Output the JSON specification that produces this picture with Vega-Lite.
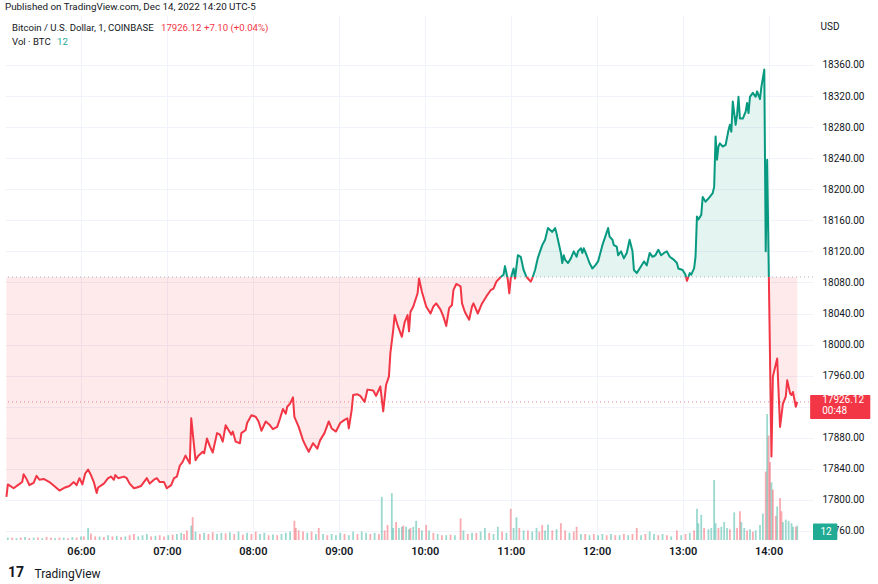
{
  "$schema": "https://vega.github.io/schema/vega-lite/v6.json",
  "width": 808,
  "height": 525,
  "autosize": {"type": "none"},
  "padding": {"left": 5, "top": 15, "right": 65, "bottom": 44},
  "background": "white",
  "title": {"text": "Published on TradingView.com, Dec 14, 2022 14:20 UTC-5", "anchor": "start", "frame": "group", "offset": 3, "fontSize": 9.8, "fontWeight": "normal", "color": "#131722"},
  "config": {"view": {"stroke": null}, "font": "Roboto"},
  "layer": [
    {
      "data": {"values": [
      {"t":"05:09","v":2,"d":"u"},{"t":"05:12","v":2,"d":"d"},{"t":"05:15","v":1.5,"d":"u"},{"t":"05:18","v":2,"d":"d"},{"t":"05:21","v":2.5,"d":"u"},{"t":"05:24","v":1.5,"d":"d"},{"t":"05:27","v":2,"d":"u"},{"t":"05:30","v":2,"d":"d"},{"t":"05:33","v":1.5,"d":"u"},{"t":"05:36","v":2.5,"d":"d"},{"t":"05:39","v":2,"d":"d"},{"t":"05:42","v":1.5,"d":"u"},{"t":"05:45","v":2,"d":"d"},{"t":"05:48","v":2,"d":"u"},{"t":"05:51","v":1.5,"d":"d"},{"t":"05:54","v":2.5,"d":"u"},{"t":"05:57","v":2,"d":"d"},
      {"t":"06:00","v":3,"d":"u"},{"t":"06:02","v":3,"d":"d"},{"t":"06:05","v":10,"d":"u"},{"t":"06:07","v":5.5,"d":"d"},{"t":"06:10","v":3,"d":"d"},{"t":"06:13","v":3,"d":"u"},{"t":"06:16","v":2.5,"d":"d"},{"t":"06:19","v":4,"d":"u"},{"t":"06:22","v":3,"d":"d"},{"t":"06:25","v":3.5,"d":"u"},{"t":"06:28","v":2.5,"d":"d"},{"t":"06:31","v":3,"d":"u"},{"t":"06:34","v":4,"d":"d"},{"t":"06:37","v":5,"d":"d"},{"t":"06:40","v":3,"d":"u"},{"t":"06:43","v":4,"d":"u"},{"t":"06:46","v":5,"d":"u"},{"t":"06:49","v":3,"d":"d"},{"t":"06:52","v":3.5,"d":"u"},{"t":"06:55","v":4,"d":"d"},{"t":"06:58","v":3,"d":"d"},
      {"t":"07:01","v":4,"d":"u"},{"t":"07:04","v":4.5,"d":"d"},{"t":"07:07","v":5,"d":"u"},{"t":"07:10","v":6,"d":"u"},{"t":"07:12","v":5,"d":"d"},{"t":"07:14","v":8,"d":"d"},{"t":"07:17","v":12,"d":"u"},{"t":"07:18","v":19,"d":"d"},{"t":"07:20","v":7,"d":"u"},{"t":"07:23","v":5,"d":"d"},{"t":"07:26","v":6,"d":"u"},{"t":"07:29","v":5,"d":"d"},{"t":"07:32","v":6.5,"d":"d"},{"t":"07:35","v":5,"d":"u"},{"t":"07:38","v":6,"d":"u"},{"t":"07:41","v":5.5,"d":"d"},{"t":"07:44","v":6.5,"d":"u"},{"t":"07:47","v":5,"d":"d"},{"t":"07:50","v":7,"d":"u"},{"t":"07:53","v":4.5,"d":"d"},{"t":"07:56","v":6,"d":"u"},{"t":"07:59","v":5,"d":"d"},
      {"t":"08:02","v":7,"d":"d"},{"t":"08:05","v":5,"d":"u"},{"t":"08:08","v":6,"d":"u"},{"t":"08:11","v":4,"d":"d"},{"t":"08:14","v":4.5,"d":"u"},{"t":"08:17","v":4,"d":"d"},{"t":"08:20","v":5,"d":"u"},{"t":"08:23","v":6,"d":"u"},{"t":"08:26","v":7,"d":"u"},{"t":"08:29","v":16,"d":"d"},{"t":"08:30","v":10,"d":"d"},{"t":"08:32","v":8,"d":"d"},{"t":"08:35","v":7,"d":"d"},{"t":"08:38","v":6,"d":"u"},{"t":"08:41","v":7,"d":"d"},{"t":"08:44","v":5,"d":"u"},{"t":"08:46","v":10,"d":"d"},{"t":"08:49","v":5,"d":"u"},{"t":"08:52","v":4,"d":"d"},{"t":"08:55","v":5,"d":"u"},{"t":"08:58","v":4,"d":"u"},
      {"t":"09:01","v":6,"d":"u"},{"t":"09:04","v":5,"d":"d"},{"t":"09:07","v":4,"d":"u"},{"t":"09:10","v":7,"d":"u"},{"t":"09:13","v":5,"d":"d"},{"t":"09:16","v":7,"d":"u"},{"t":"09:19","v":6,"d":"u"},{"t":"09:22","v":5,"d":"d"},{"t":"09:25","v":6,"d":"u"},{"t":"09:28","v":5,"d":"d"},{"t":"09:30","v":36,"d":"u"},{"t":"09:32","v":8,"d":"d"},{"t":"09:34","v":12.5,"d":"d"},{"t":"09:37","v":39,"d":"u"},{"t":"09:38","v":10,"d":"u"},{"t":"09:40","v":15,"d":"d"},{"t":"09:42","v":10,"d":"u"},{"t":"09:44","v":11,"d":"u"},{"t":"09:45","v":12,"d":"d"},{"t":"09:47","v":11,"d":"u"},{"t":"09:49","v":9,"d":"u"},{"t":"09:50","v":10,"d":"d"},{"t":"09:52","v":11,"d":"u"},{"t":"09:54","v":16,"d":"u"},{"t":"09:56","v":10,"d":"d"},{"t":"09:58","v":8,"d":"u"},
      {"t":"10:01","v":12.5,"d":"d"},{"t":"10:03","v":8,"d":"u"},{"t":"10:06","v":6,"d":"d"},{"t":"10:09","v":5,"d":"u"},{"t":"10:12","v":4,"d":"d"},{"t":"10:15","v":4,"d":"u"},{"t":"10:18","v":4.5,"d":"d"},{"t":"10:21","v":4,"d":"u"},{"t":"10:25","v":18,"d":"d"},{"t":"10:27","v":8,"d":"u"},{"t":"10:30","v":5,"d":"d"},{"t":"10:33","v":6,"d":"u"},{"t":"10:36","v":6,"d":"d"},{"t":"10:39","v":7,"d":"u"},{"t":"10:42","v":10,"d":"u"},{"t":"10:45","v":6,"d":"d"},{"t":"10:48","v":5,"d":"u"},{"t":"10:51","v":11,"d":"u"},{"t":"10:54","v":7,"d":"d"},{"t":"10:57","v":6,"d":"u"},
      {"t":"11:00","v":26,"d":"d"},{"t":"11:02","v":10,"d":"u"},{"t":"11:04","v":19,"d":"u"},{"t":"11:06","v":10,"d":"d"},{"t":"11:09","v":8,"d":"u"},{"t":"11:12","v":8,"d":"d"},{"t":"11:15","v":7,"d":"u"},{"t":"11:18","v":10,"d":"u"},{"t":"11:20","v":7,"d":"d"},{"t":"11:22","v":12.5,"d":"d"},{"t":"11:24","v":8,"d":"u"},{"t":"11:26","v":13,"d":"u"},{"t":"11:29","v":8,"d":"d"},{"t":"11:32","v":9,"d":"u"},{"t":"11:35","v":14,"d":"d"},{"t":"11:38","v":8,"d":"d"},{"t":"11:41","v":6,"d":"u"},{"t":"11:44","v":7,"d":"d"},{"t":"11:46","v":11,"d":"d"},{"t":"11:49","v":5,"d":"u"},{"t":"11:52","v":5,"d":"d"},{"t":"11:55","v":4,"d":"u"},{"t":"11:58","v":5,"d":"d"},
      {"t":"12:01","v":4,"d":"u"},{"t":"12:04","v":5,"d":"u"},{"t":"12:07","v":4,"d":"d"},{"t":"12:10","v":5,"d":"u"},{"t":"12:13","v":4,"d":"d"},{"t":"12:16","v":4,"d":"u"},{"t":"12:19","v":5,"d":"d"},{"t":"12:22","v":4,"d":"u"},{"t":"12:25","v":5,"d":"d"},{"t":"12:28","v":10,"d":"d"},{"t":"12:31","v":4,"d":"u"},{"t":"12:34","v":5,"d":"d"},{"t":"12:37","v":7,"d":"u"},{"t":"12:40","v":5,"d":"u"},{"t":"12:43","v":4,"d":"d"},{"t":"12:46","v":5,"d":"u"},{"t":"12:49","v":4,"d":"d"},{"t":"12:52","v":3,"d":"u"},{"t":"12:56","v":8,"d":"d"},{"t":"12:59","v":4,"d":"u"},
      {"t":"13:02","v":5,"d":"d"},{"t":"13:05","v":6,"d":"u"},{"t":"13:08","v":8,"d":"d"},{"t":"13:10","v":26,"d":"u"},{"t":"13:11","v":14,"d":"u"},{"t":"13:13","v":21,"d":"u"},{"t":"13:15","v":10,"d":"d"},{"t":"13:18","v":9,"d":"u"},{"t":"13:20","v":10,"d":"u"},{"t":"13:22","v":50,"d":"u"},{"t":"13:23","v":14,"d":"u"},{"t":"13:25","v":10,"d":"d"},{"t":"13:27","v":11,"d":"u"},{"t":"13:29","v":15,"d":"u"},{"t":"13:31","v":10,"d":"u"},{"t":"13:33","v":9,"d":"d"},{"t":"13:36","v":23,"d":"u"},{"t":"13:38","v":10,"d":"d"},{"t":"13:40","v":24,"d":"d"},{"t":"13:41","v":15,"d":"u"},{"t":"13:43","v":10,"d":"u"},{"t":"13:45","v":8,"d":"d"},{"t":"13:47","v":9,"d":"u"},{"t":"13:49","v":7,"d":"d"},{"t":"13:51","v":8,"d":"u"},{"t":"13:54","v":12.5,"d":"u"},{"t":"13:56","v":22,"d":"u"},{"t":"13:58","v":57,"d":"d"},{"t":"13:59","v":105,"d":"u"},
      {"t":"14:00","v":87,"d":"d"},{"t":"14:01","v":65,"d":"d"},{"t":"14:02","v":48,"d":"u"},{"t":"14:03","v":42,"d":"d"},{"t":"14:05","v":20,"d":"d"},{"t":"14:06","v":28,"d":"u"},{"t":"14:08","v":35,"d":"d"},{"t":"14:09","v":24,"d":"d"},{"t":"14:10","v":15,"d":"u"},{"t":"14:12","v":17,"d":"u"},{"t":"14:14","v":16,"d":"u"},{"t":"14:16","v":14,"d":"u"},{"t":"14:17","v":11,"d":"u"},{"t":"14:19","v":11,"d":"d"},{"t":"14:20","v":12,"d":"u"}
      ], "format": {"parse": {"t": "utc:'%H:%M'"}}},
      "mark": {"type": "bar", "size": 1.8},
      "encoding": {
        "x": {"field": "t", "type": "temporal"},
        "y": {"field": "v", "type": "quantitative", "scale": {"domain": [0, 437.5], "nice": false, "zero": true}, "axis": null},
        "color": {"field": "d", "type": "nominal", "scale": {"domain": ["u", "d"], "range": ["rgba(34,171,148,0.45)", "rgba(242,54,69,0.42)"]}, "legend": null}
      }
    },
    {
      "data": {"values": [
      {"t":"05:08:00","p":17804,"g":"d1","s":"d"},{"t":"05:09:00","p":17820,"g":"d1","s":"d"},{"t":"05:13:00","p":17815,"g":"d1","s":"d"},{"t":"05:16:00","p":17819,"g":"d1","s":"d"},{"t":"05:19:00","p":17823,"g":"d1","s":"d"},{"t":"05:20:00","p":17833,"g":"d1","s":"d"},{"t":"05:22:00","p":17827,"g":"d1","s":"d"},{"t":"05:24:00","p":17819,"g":"d1","s":"d"},{"t":"05:27:00","p":17822,"g":"d1","s":"d"},{"t":"05:29:00","p":17831,"g":"d1","s":"d"},{"t":"05:31:00","p":17826,"g":"d1","s":"d"},{"t":"05:34:00","p":17827,"g":"d1","s":"d"},{"t":"05:38:00","p":17823,"g":"d1","s":"d"},{"t":"05:42:00","p":17817,"g":"d1","s":"d"},{"t":"05:45:00","p":17812,"g":"d1","s":"d"},{"t":"05:49:00","p":17816,"g":"d1","s":"d"},{"t":"05:52:00","p":17818,"g":"d1","s":"d"},{"t":"05:55:00","p":17823,"g":"d1","s":"d"},{"t":"05:57:00","p":17819,"g":"d1","s":"d"},{"t":"05:59:00","p":17828,"g":"d1","s":"d"},
      {"t":"06:01:00","p":17820,"g":"d1","s":"d"},{"t":"06:03:00","p":17834,"g":"d1","s":"d"},{"t":"06:05:00","p":17839,"g":"d1","s":"d"},{"t":"06:07:00","p":17832,"g":"d1","s":"d"},{"t":"06:09:00","p":17823,"g":"d1","s":"d"},{"t":"06:11:00","p":17809,"g":"d1","s":"d"},{"t":"06:12:00","p":17816,"g":"d1","s":"d"},{"t":"06:16:00","p":17821,"g":"d1","s":"d"},{"t":"06:19:00","p":17828,"g":"d1","s":"d"},{"t":"06:21:00","p":17830,"g":"d1","s":"d"},{"t":"06:23:00","p":17826,"g":"d1","s":"d"},{"t":"06:24:00","p":17832,"g":"d1","s":"d"},{"t":"06:26:00","p":17828,"g":"d1","s":"d"},{"t":"06:30:00","p":17830,"g":"d1","s":"d"},{"t":"06:32:00","p":17828,"g":"d1","s":"d"},{"t":"06:34:00","p":17821,"g":"d1","s":"d"},{"t":"06:37:00","p":17815,"g":"d1","s":"d"},{"t":"06:39:00","p":17816,"g":"d1","s":"d"},{"t":"06:42:00","p":17818,"g":"d1","s":"d"},{"t":"06:46:00","p":17828,"g":"d1","s":"d"},{"t":"06:48:00","p":17821,"g":"d1","s":"d"},{"t":"06:51:00","p":17826,"g":"d1","s":"d"},{"t":"06:53:00","p":17828,"g":"d1","s":"d"},{"t":"06:55:00","p":17823,"g":"d1","s":"d"},{"t":"06:58:00","p":17823,"g":"d1","s":"d"},
      {"t":"07:00:00","p":17815,"g":"d1","s":"d"},{"t":"07:03:00","p":17819,"g":"d1","s":"d"},{"t":"07:05:00","p":17828,"g":"d1","s":"d"},{"t":"07:07:00","p":17830,"g":"d1","s":"d"},{"t":"07:09:00","p":17844,"g":"d1","s":"d"},{"t":"07:11:00","p":17849,"g":"d1","s":"d"},{"t":"07:13:00","p":17857,"g":"d1","s":"d"},{"t":"07:16:00","p":17847,"g":"d1","s":"d"},{"t":"07:17:00","p":17905,"g":"d1","s":"d"},{"t":"07:19:00","p":17869,"g":"d1","s":"d"},{"t":"07:20:00","p":17851,"g":"d1","s":"d"},{"t":"07:22:00","p":17857,"g":"d1","s":"d"},{"t":"07:25:00","p":17862,"g":"d1","s":"d"},{"t":"07:26:00","p":17860,"g":"d1","s":"d"},{"t":"07:28:00","p":17879,"g":"d1","s":"d"},{"t":"07:30:00","p":17869,"g":"d1","s":"d"},{"t":"07:32:00","p":17861,"g":"d1","s":"d"},{"t":"07:35:00","p":17886,"g":"d1","s":"d"},{"t":"07:37:00","p":17884,"g":"d1","s":"d"},{"t":"07:39:00","p":17875,"g":"d1","s":"d"},{"t":"07:41:00","p":17896,"g":"d1","s":"d"},{"t":"07:43:00","p":17890,"g":"d1","s":"d"},{"t":"07:45:00","p":17884,"g":"d1","s":"d"},{"t":"07:46:00","p":17888,"g":"d1","s":"d"},{"t":"07:48:00","p":17875,"g":"d1","s":"d"},{"t":"07:51:00","p":17873,"g":"d1","s":"d"},{"t":"07:52:00","p":17886,"g":"d1","s":"d"},{"t":"07:55:00","p":17890,"g":"d1","s":"d"},{"t":"07:56:00","p":17899,"g":"d1","s":"d"},{"t":"07:59:00","p":17909,"g":"d1","s":"d"},
      {"t":"08:02:00","p":17907,"g":"d1","s":"d"},{"t":"08:04:00","p":17901,"g":"d1","s":"d"},{"t":"08:06:00","p":17889,"g":"d1","s":"d"},{"t":"08:09:00","p":17901,"g":"d1","s":"d"},{"t":"08:12:00","p":17896,"g":"d1","s":"d"},{"t":"08:14:00","p":17891,"g":"d1","s":"d"},{"t":"08:17:00","p":17894,"g":"d1","s":"d"},{"t":"08:19:00","p":17905,"g":"d1","s":"d"},{"t":"08:21:00","p":17917,"g":"d1","s":"d"},{"t":"08:23:00","p":17911,"g":"d1","s":"d"},{"t":"08:24:00","p":17920,"g":"d1","s":"d"},{"t":"08:26:00","p":17924,"g":"d1","s":"d"},{"t":"08:28:00","p":17932,"g":"d1","s":"d"},{"t":"08:29:00","p":17907,"g":"d1","s":"d"},{"t":"08:32:00","p":17894,"g":"d1","s":"d"},{"t":"08:35:00","p":17877,"g":"d1","s":"d"},{"t":"08:37:00","p":17869,"g":"d1","s":"d"},{"t":"08:39:00","p":17862,"g":"d1","s":"d"},{"t":"08:42:00","p":17873,"g":"d1","s":"d"},{"t":"08:45:00","p":17866,"g":"d1","s":"d"},{"t":"08:47:00","p":17877,"g":"d1","s":"d"},{"t":"08:50:00","p":17886,"g":"d1","s":"d"},{"t":"08:53:00","p":17901,"g":"d1","s":"d"},{"t":"08:55:00","p":17892,"g":"d1","s":"d"},{"t":"08:58:00","p":17888,"g":"d1","s":"d"},
      {"t":"09:01:00","p":17899,"g":"d1","s":"d"},{"t":"09:04:00","p":17903,"g":"d1","s":"d"},{"t":"09:06:00","p":17905,"g":"d1","s":"d"},{"t":"09:07:00","p":17892,"g":"d1","s":"d"},{"t":"09:09:00","p":17916,"g":"d1","s":"d"},{"t":"09:10:00","p":17935,"g":"d1","s":"d"},{"t":"09:13:00","p":17936,"g":"d1","s":"d"},{"t":"09:15:00","p":17934,"g":"d1","s":"d"},{"t":"09:18:00","p":17926,"g":"d1","s":"d"},{"t":"09:20:00","p":17942,"g":"d1","s":"d"},{"t":"09:24:00","p":17941,"g":"d1","s":"d"},{"t":"09:26:00","p":17934,"g":"d1","s":"d"},{"t":"09:29:00","p":17946,"g":"d1","s":"d"},{"t":"09:31:00","p":17914,"g":"d1","s":"d"},{"t":"09:33:00","p":17948,"g":"d1","s":"d"},{"t":"09:35:00","p":17959,"g":"d1","s":"d"},{"t":"09:36:00","p":17989,"g":"d1","s":"d"},{"t":"09:38:00","p":18019,"g":"d1","s":"d"},{"t":"09:39:00","p":18038,"g":"d1","s":"d"},{"t":"09:41:00","p":18025,"g":"d1","s":"d"},{"t":"09:44:00","p":18010,"g":"d1","s":"d"},{"t":"09:46:00","p":18029,"g":"d1","s":"d"},{"t":"09:48:00","p":18038,"g":"d1","s":"d"},{"t":"09:49:00","p":18017,"g":"d1","s":"d"},{"t":"09:50:00","p":18042,"g":"d1","s":"d"},{"t":"09:52:00","p":18049,"g":"d1","s":"d"},{"t":"09:55:00","p":18066,"g":"d1","s":"d"},{"t":"09:56:00","p":18085,"g":"d1","s":"d"},{"t":"09:58:00","p":18068,"g":"d1","s":"d"},
      {"t":"10:01:00","p":18049,"g":"d1","s":"d"},{"t":"10:04:00","p":18040,"g":"d1","s":"d"},{"t":"10:06:00","p":18049,"g":"d1","s":"d"},{"t":"10:08:00","p":18053,"g":"d1","s":"d"},{"t":"10:11:00","p":18045,"g":"d1","s":"d"},{"t":"10:13:00","p":18036,"g":"d1","s":"d"},{"t":"10:15:00","p":18024,"g":"d1","s":"d"},{"t":"10:17:00","p":18047,"g":"d1","s":"d"},{"t":"10:19:00","p":18051,"g":"d1","s":"d"},{"t":"10:20:00","p":18070,"g":"d1","s":"d"},{"t":"10:22:00","p":18078,"g":"d1","s":"d"},{"t":"10:25:00","p":18075,"g":"d1","s":"d"},{"t":"10:26:00","p":18053,"g":"d1","s":"d"},{"t":"10:28:00","p":18042,"g":"d1","s":"d"},{"t":"10:31:00","p":18032,"g":"d1","s":"d"},{"t":"10:33:00","p":18049,"g":"d1","s":"d"},{"t":"10:34:00","p":18053,"g":"d1","s":"d"},{"t":"10:37:00","p":18040,"g":"d1","s":"d"},{"t":"10:40:00","p":18053,"g":"d1","s":"d"},{"t":"10:43:00","p":18062,"g":"d1","s":"d"},{"t":"10:46:00","p":18070,"g":"d1","s":"d"},{"t":"10:48:00","p":18072,"g":"d1","s":"d"},{"t":"10:50:00","p":18081,"g":"d1","s":"d"},{"t":"10:53:00","p":18087,"g":"d1","s":"d"},
      {"t":"10:53:00","p":18087,"g":"u1","s":"u"},{"t":"10:55:00","p":18090,"g":"u1","s":"u"},{"t":"10:56:00","p":18101,"g":"u1","s":"u"},{"t":"10:57:34","p":18087,"g":"u1","s":"u"},
      {"t":"10:57:34","p":18087,"g":"d2","s":"d"},{"t":"10:58:00","p":18083,"g":"d2","s":"d"},{"t":"10:59:00","p":18066,"g":"d2","s":"d"},{"t":"11:00:00","p":18085,"g":"d2","s":"d"},{"t":"11:00:18","p":18087,"g":"d2","s":"d"},
      {"t":"11:00:18","p":18087,"g":"u2","s":"u"},{"t":"11:02:00","p":18098,"g":"u2","s":"u"},{"t":"11:02:51","p":18087,"g":"u2","s":"u"},
      {"t":"11:02:51","p":18087,"g":"d3","s":"d"},{"t":"11:03:00","p":18085,"g":"d3","s":"d"},{"t":"11:03:08","p":18087,"g":"d3","s":"d"},
      {"t":"11:03:08","p":18087,"g":"u3","s":"u"},{"t":"11:05:00","p":18115,"g":"u3","s":"u"},{"t":"11:07:00","p":18113,"g":"u3","s":"u"},{"t":"11:09:00","p":18096,"g":"u3","s":"u"},{"t":"11:11:00","p":18087,"g":"u3","s":"u"},
      {"t":"11:11:00","p":18087,"g":"d4","s":"d"},{"t":"11:14:00","p":18081,"g":"d4","s":"d"},{"t":"11:15:00","p":18085,"g":"d4","s":"d"},{"t":"11:15:22","p":18087,"g":"d4","s":"d"},
      {"t":"11:15:22","p":18087,"g":"u4","s":"u"},{"t":"11:17:00","p":18096,"g":"u4","s":"u"},{"t":"11:19:00","p":18112,"g":"u4","s":"u"},{"t":"11:22:00","p":18128,"g":"u4","s":"u"},{"t":"11:24:00","p":18135,"g":"u4","s":"u"},{"t":"11:26:00","p":18150,"g":"u4","s":"u"},{"t":"11:29:00","p":18145,"g":"u4","s":"u"},{"t":"11:31:00","p":18150,"g":"u4","s":"u"},{"t":"11:32:00","p":18143,"g":"u4","s":"u"},{"t":"11:35:00","p":18118,"g":"u4","s":"u"},{"t":"11:36:00","p":18105,"g":"u4","s":"u"},{"t":"11:37:00","p":18115,"g":"u4","s":"u"},{"t":"11:38:00","p":18109,"g":"u4","s":"u"},{"t":"11:40:00","p":18105,"g":"u4","s":"u"},{"t":"11:42:00","p":18111,"g":"u4","s":"u"},{"t":"11:44:00","p":18120,"g":"u4","s":"u"},{"t":"11:46:00","p":18113,"g":"u4","s":"u"},{"t":"11:47:00","p":18120,"g":"u4","s":"u"},{"t":"11:49:00","p":18124,"g":"u4","s":"u"},{"t":"11:50:00","p":18118,"g":"u4","s":"u"},{"t":"11:51:00","p":18124,"g":"u4","s":"u"},{"t":"11:53:00","p":18115,"g":"u4","s":"u"},{"t":"11:55:00","p":18105,"g":"u4","s":"u"},{"t":"11:57:00","p":18098,"g":"u4","s":"u"},{"t":"11:59:00","p":18102,"g":"u4","s":"u"},
      {"t":"12:01:00","p":18107,"g":"u4","s":"u"},{"t":"12:04:00","p":18128,"g":"u4","s":"u"},{"t":"12:06:00","p":18139,"g":"u4","s":"u"},{"t":"12:08:00","p":18150,"g":"u4","s":"u"},{"t":"12:09:00","p":18139,"g":"u4","s":"u"},{"t":"12:11:00","p":18135,"g":"u4","s":"u"},{"t":"12:12:00","p":18128,"g":"u4","s":"u"},{"t":"12:14:00","p":18126,"g":"u4","s":"u"},{"t":"12:15:00","p":18115,"g":"u4","s":"u"},{"t":"12:17:00","p":18120,"g":"u4","s":"u"},{"t":"12:19:00","p":18111,"g":"u4","s":"u"},{"t":"12:21:00","p":18118,"g":"u4","s":"u"},{"t":"12:23:00","p":18135,"g":"u4","s":"u"},{"t":"12:25:00","p":18120,"g":"u4","s":"u"},{"t":"12:26:00","p":18096,"g":"u4","s":"u"},{"t":"12:28:00","p":18092,"g":"u4","s":"u"},{"t":"12:30:00","p":18098,"g":"u4","s":"u"},{"t":"12:33:00","p":18107,"g":"u4","s":"u"},{"t":"12:35:00","p":18102,"g":"u4","s":"u"},{"t":"12:37:00","p":18118,"g":"u4","s":"u"},{"t":"12:39:00","p":18113,"g":"u4","s":"u"},{"t":"12:41:00","p":18115,"g":"u4","s":"u"},{"t":"12:43:00","p":18122,"g":"u4","s":"u"},{"t":"12:45:00","p":18115,"g":"u4","s":"u"},{"t":"12:47:00","p":18118,"g":"u4","s":"u"},{"t":"12:49:00","p":18120,"g":"u4","s":"u"},{"t":"12:51:00","p":18113,"g":"u4","s":"u"},{"t":"12:54:00","p":18109,"g":"u4","s":"u"},{"t":"12:56:00","p":18105,"g":"u4","s":"u"},{"t":"12:57:00","p":18098,"g":"u4","s":"u"},{"t":"13:00:00","p":18096,"g":"u4","s":"u"},{"t":"13:02:00","p":18090,"g":"u4","s":"u"},{"t":"13:02:22","p":18087,"g":"u4","s":"u"},
      {"t":"13:02:22","p":18087,"g":"d5","s":"d"},{"t":"13:03:00","p":18082,"g":"d5","s":"d"},{"t":"13:04:00","p":18087,"g":"d5","s":"d"},
      {"t":"13:04:00","p":18087,"g":"u5","s":"u"},{"t":"13:05:00","p":18092,"g":"u5","s":"u"},{"t":"13:06:00","p":18090,"g":"u5","s":"u"},{"t":"13:08:00","p":18098,"g":"u5","s":"u"},{"t":"13:09:00","p":18113,"g":"u5","s":"u"},{"t":"13:10:00","p":18165,"g":"u5","s":"u"},{"t":"13:11:00","p":18161,"g":"u5","s":"u"},{"t":"13:13:00","p":18167,"g":"u5","s":"u"},{"t":"13:14:00","p":18190,"g":"u5","s":"u"},{"t":"13:16:00","p":18184,"g":"u5","s":"u"},{"t":"13:18:00","p":18188,"g":"u5","s":"u"},{"t":"13:21:00","p":18195,"g":"u5","s":"u"},{"t":"13:22:00","p":18203,"g":"u5","s":"u"},{"t":"13:23:00","p":18268,"g":"u5","s":"u"},{"t":"13:24:00","p":18238,"g":"u5","s":"u"},{"t":"13:25:00","p":18255,"g":"u5","s":"u"},{"t":"13:26:00","p":18259,"g":"u5","s":"u"},{"t":"13:28:00","p":18255,"g":"u5","s":"u"},{"t":"13:30:00","p":18257,"g":"u5","s":"u"},{"t":"13:32:00","p":18276,"g":"u5","s":"u"},{"t":"13:33:00","p":18283,"g":"u5","s":"u"},{"t":"13:34:00","p":18274,"g":"u5","s":"u"},{"t":"13:35:00","p":18313,"g":"u5","s":"u"},{"t":"13:37:00","p":18283,"g":"u5","s":"u"},{"t":"13:38:00","p":18296,"g":"u5","s":"u"},{"t":"13:39:00","p":18319,"g":"u5","s":"u"},{"t":"13:40:00","p":18291,"g":"u5","s":"u"},{"t":"13:42:00","p":18291,"g":"u5","s":"u"},{"t":"13:44:00","p":18300,"g":"u5","s":"u"},{"t":"13:45:00","p":18311,"g":"u5","s":"u"},{"t":"13:46:00","p":18298,"g":"u5","s":"u"},{"t":"13:47:00","p":18319,"g":"u5","s":"u"},{"t":"13:49:00","p":18324,"g":"u5","s":"u"},{"t":"13:51:00","p":18319,"g":"u5","s":"u"},{"t":"13:52:00","p":18326,"g":"u5","s":"u"},{"t":"13:54:00","p":18316,"g":"u5","s":"u"},{"t":"13:55:00","p":18332,"g":"u5","s":"u"},{"t":"13:57:00","p":18354,"g":"u5","s":"u"},{"t":"13:58:00","p":18120,"g":"u5","s":"u"},{"t":"13:59:00","p":18238,"g":"u5","s":"u"},{"t":"14:00:11","p":18087,"g":"u5","s":"u"},
      {"t":"14:00:11","p":18087,"g":"d6","s":"d"},{"t":"14:02:00","p":17856,"g":"d6","s":"d"},{"t":"14:03:00","p":17959,"g":"d6","s":"d"},{"t":"14:06:00","p":17982,"g":"d6","s":"d"},{"t":"14:08:00","p":17894,"g":"d6","s":"d"},{"t":"14:10:00","p":17924,"g":"d6","s":"d"},{"t":"14:12:00","p":17933,"g":"d6","s":"d"},{"t":"14:13:00","p":17954,"g":"d6","s":"d"},{"t":"14:15:00","p":17937,"g":"d6","s":"d"},{"t":"14:16:00","p":17935,"g":"d6","s":"d"},{"t":"14:17:00","p":17939,"g":"d6","s":"d"},{"t":"14:19:00","p":17920,"g":"d6","s":"d"},{"t":"14:20:00","p":17926.12,"g":"d6","s":"d"}
      ], "format": {"parse": {"t": "utc:'%H:%M:%S'"}}},
      "layer": [
        {
          "mark": {"type": "area", "interpolate": "linear", "fillOpacity": 0.11},
          "encoding": {
            "x": {"field": "t", "type": "temporal",
              "scale": {"type": "utc", "nice": false, "padding": 0, "domain": [{"year":1900,"month":1,"date":1,"hours":5,"minutes":7,"utc":true}, {"year":1900,"month":1,"date":1,"hours":14,"minutes":31,"utc":true}]},
              "axis": {"values": [
                {"year":1900,"month":1,"date":1,"hours":6,"utc":true},{"year":1900,"month":1,"date":1,"hours":7,"utc":true},{"year":1900,"month":1,"date":1,"hours":8,"utc":true},{"year":1900,"month":1,"date":1,"hours":9,"utc":true},{"year":1900,"month":1,"date":1,"hours":10,"utc":true},{"year":1900,"month":1,"date":1,"hours":11,"utc":true},{"year":1900,"month":1,"date":1,"hours":12,"utc":true},{"year":1900,"month":1,"date":1,"hours":13,"utc":true},{"year":1900,"month":1,"date":1,"hours":14,"utc":true}],
                "tickCount": 30,
                "format": "%H:%M", "labelFontSize": 11, "labelFontWeight": 600, "labelColor": "#131722", "labelPadding": 5, "labelFlush": false, "labelOverlap": false,
                "ticks": false, "domain": false, "grid": true, "gridColor": "#f0f3fa", "gridWidth": 1,
                "title": "TradingView", "titleX": 29, "titleY": 33, "titleAlign": "left", "titleBaseline": "middle", "titleFontSize": 12, "titleFontWeight": "normal", "titleColor": "#131722"}},
            "y": {"field": "p", "type": "quantitative", "stack": null,
              "scale": {"domain": [17748.4, 18424.3], "nice": false, "zero": false},
              "axis": {"orient": "right", "values": [17760,17800,17840,17880,17920,17960,18000,18040,18080,18120,18160,18200,18240,18280,18320,18360],
                "tickCount": 40,
                "labelExpr": "datum.value == 17920 ? '' : format(datum.value, '.2f')",
                "labelFontSize": 10, "labelColor": "#131722", "labelPadding": 9, "labelOverlap": false, "ticks": false, "domain": false,
                "grid": true, "gridColor": "#f0f3fa", "gridWidth": 1,
                "title": "USD", "titleAngle": 0, "titleX": 7, "titleY": 11, "titleAlign": "left", "titleBaseline": "middle", "titleFontSize": 10, "titleFontWeight": "normal", "titleColor": "#131722"}},
            "y2": {"datum": 18087},
            "color": {"field": "s", "type": "nominal", "scale": {"domain": ["u", "d"], "range": ["#089981", "#F23645"]}, "legend": null},
            "detail": {"field": "g", "type": "nominal"}
          }
        },
        {
          "data": {"values": [{}]},
          "mark": {"type": "rule", "color": "#b2b5be", "strokeDash": [1, 3], "strokeWidth": 1},
          "encoding": {"y": {"datum": 18087}}
        },
        {
          "data": {"values": [{}]},
          "mark": {"type": "rule", "color": "#F23645", "strokeDash": [1, 3], "strokeWidth": 1, "opacity": 0.6},
          "encoding": {"y": {"datum": 17926.12}}
        },
        {
          "mark": {"type": "line", "interpolate": "linear", "strokeWidth": 2, "strokeJoin": "round"},
          "encoding": {
            "x": {"field": "t", "type": "temporal"},
            "y": {"field": "p", "type": "quantitative"},
            "color": {"field": "s", "type": "nominal", "legend": null},
            "detail": {"field": "g", "type": "nominal"}
          }
        },
        {
          "data": {"values": [{}]},
          "mark": {"type": "rect", "color": "#F23645", "cornerRadius": 1},
          "encoding": {
            "x": {"datum": {"year":1900,"month":1,"date":1,"hours":14,"minutes":29,"utc":true}, "type": "temporal"},
            "x2": {"datum": {"year":1900,"month":1,"date":1,"hours":15,"minutes":11,"utc":true}},
            "y": {"datum": 17935},
            "y2": {"datum": 17904.3}
          }
        },
        {
          "data": {"values": [{}]},
          "mark": {"type": "text", "text": "17926.12", "color": "white", "fontSize": 10, "align": "left", "baseline": "middle", "dx": 12, "dy": -2},
          "encoding": {
            "x": {"datum": {"year":1900,"month":1,"date":1,"hours":14,"minutes":29,"utc":true}, "type": "temporal"},
            "y": {"datum": 17926.12}
          }
        },
        {
          "data": {"values": [{}]},
          "mark": {"type": "text", "text": "00:48", "color": "white", "fontSize": 10, "align": "left", "baseline": "middle", "dx": 12, "dy": 9.5},
          "encoding": {
            "x": {"datum": {"year":1900,"month":1,"date":1,"hours":14,"minutes":29,"utc":true}, "type": "temporal"},
            "y": {"datum": 17926.12}
          }
        },
        {
          "data": {"values": [{}]},
          "mark": {"type": "rect", "color": "#22AB94", "cornerRadius": 1},
          "encoding": {
            "x": {"datum": {"year":1900,"month":1,"date":1,"hours":14,"minutes":31,"utc":true}, "type": "temporal"},
            "x2": {"datum": {"year":1900,"month":1,"date":1,"hours":14,"minutes":48,"utc":true}},
            "y": {"datum": 17769.5},
            "y2": {"datum": 17748.4}
          }
        },
        {
          "data": {"values": [{}]},
          "mark": {"type": "text", "text": "12", "color": "white", "fontSize": 10, "align": "center", "baseline": "middle", "dx": 13},
          "encoding": {
            "x": {"datum": {"year":1900,"month":1,"date":1,"hours":14,"minutes":31,"utc":true}, "type": "temporal"},
            "y": {"datum": 17759}
          }
        },
        {
          "data": {"values": [{}]},
          "mark": {"type": "text", "text": "Bitcoin / U.S. Dollar, 1, COINBASE", "color": "#131722", "fontSize": 9.6, "align": "left", "baseline": "middle", "dx": 7, "dy": 13},
          "encoding": {
            "x": {"datum": {"year":1900,"month":1,"date":1,"hours":5,"minutes":7,"utc":true}, "type": "temporal"},
            "y": {"datum": 18424.3}
          }
        },
        {
          "data": {"values": [{}]},
          "mark": {"type": "text", "text": "17926.12", "color": "#F23645", "fontSize": 9.6, "align": "left", "baseline": "middle", "dx": 156, "dy": 13},
          "encoding": {
            "x": {"datum": {"year":1900,"month":1,"date":1,"hours":5,"minutes":7,"utc":true}, "type": "temporal"},
            "y": {"datum": 18424.3}
          }
        },
        {
          "data": {"values": [{}]},
          "mark": {"type": "text", "text": "+7.10 (+0.04%)", "color": "#F23645", "fontSize": 9.6, "align": "left", "baseline": "middle", "dx": 199, "dy": 13},
          "encoding": {
            "x": {"datum": {"year":1900,"month":1,"date":1,"hours":5,"minutes":7,"utc":true}, "type": "temporal"},
            "y": {"datum": 18424.3}
          }
        },
        {
          "data": {"values": [{}]},
          "mark": {"type": "text", "text": "Vol · BTC", "color": "#131722", "fontSize": 9.6, "align": "left", "baseline": "middle", "dx": 7, "dy": 27},
          "encoding": {
            "x": {"datum": {"year":1900,"month":1,"date":1,"hours":5,"minutes":7,"utc":true}, "type": "temporal"},
            "y": {"datum": 18424.3}
          }
        },
        {
          "data": {"values": [{}]},
          "mark": {"type": "text", "text": "12", "color": "#22AB94", "fontSize": 9.6, "align": "left", "baseline": "middle", "dx": 52, "dy": 27},
          "encoding": {
            "x": {"datum": {"year":1900,"month":1,"date":1,"hours":5,"minutes":7,"utc":true}, "type": "temporal"},
            "y": {"datum": 18424.3}
          }
        },
        {
          "data": {"values": [{}]},
          "mark": {"type": "text", "text": "17", "color": "#131722", "fontSize": 14, "fontWeight": "bold", "align": "left", "baseline": "middle", "dx": 3, "dy": 33},
          "encoding": {
            "x": {"datum": {"year":1900,"month":1,"date":1,"hours":5,"minutes":7,"utc":true}, "type": "temporal"},
            "y": {"datum": 17748.4}
          }
        }
      ]
    }
  ],
  "resolve": {"scale": {"y": "independent", "color": "independent"}}
}
